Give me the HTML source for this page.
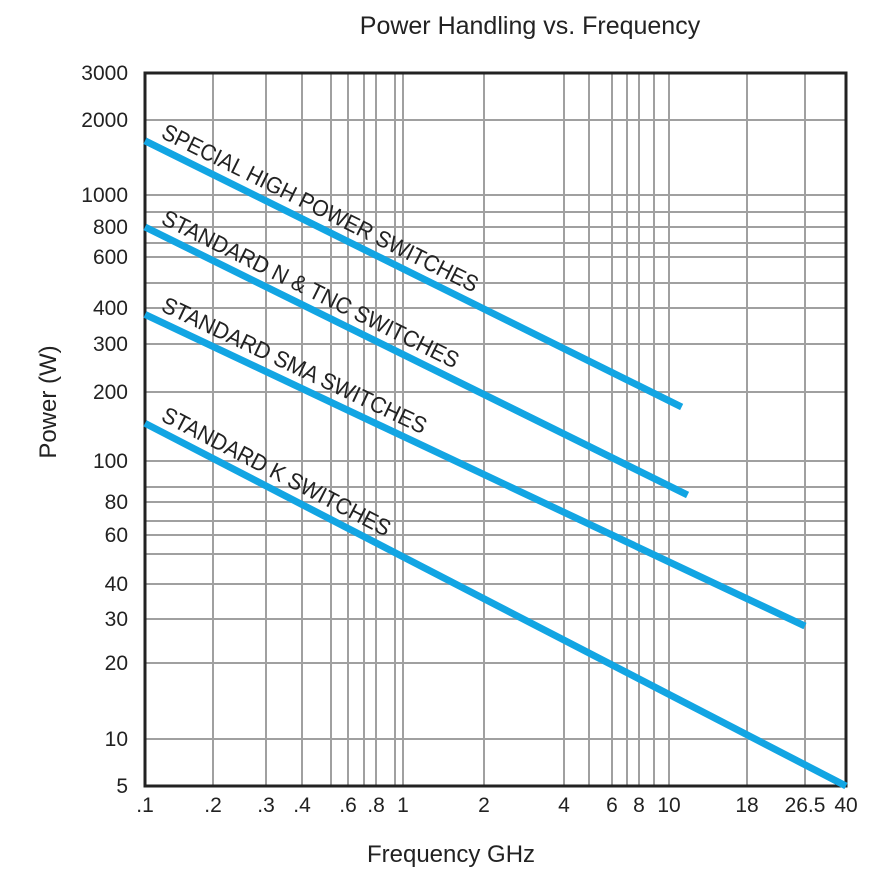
<!DOCTYPE html>
<html><head><meta charset="utf-8"><style>
body{margin:0;background:#fff}
svg{display:block;font-family:"Liberation Sans",sans-serif}
</style></head><body>
<svg id="chart" width="890" height="873" viewBox="0 0 890 873" xmlns="http://www.w3.org/2000/svg">
<text x="530" y="34" font-size="25" text-anchor="middle" fill="#222">Power Handling vs. Frequency</text>
<text x="451" y="862" font-size="24" text-anchor="middle" fill="#222">Frequency GHz</text>
<text transform="translate(56,402) rotate(-90)" font-size="24" text-anchor="middle" fill="#222">Power (W)</text>
<g id="grid"></g><g id="series"></g><g id="ticks"></g>
</svg>
<script>
const xTickLabels=[".1",".2",".3",".4",".6",".8","1","2","4","6","8","10","18","26.5","40"];
const xTickValues=[0.1,0.2,0.3,0.4,0.6,0.8,1,2,4,6,8,10,18,26.5,40];
const xGridValues=[0.2,0.3,0.4,0.5,0.6,0.7,0.8,0.9,1,2,4,5,6,7,8,9,10,18,26.5];
const yTickValues=[3000,2000,1000,800,600,400,300,200,100,80,60,40,30,20,10,5];
const yGridValues=[2000,1000,900,800,700,600,500,400,300,200,100,90,80,70,60,50,40,30,20,10];
const seriesNames=["SPECIAL HIGH POWER SWITCHES","STANDARD N & TNC SWITCHES","STANDARD SMA SWITCHES","STANDARD K SWITCHES"];
const seriesFreq=[[0.1,11],[0.1,11.5],[0.1,26.5],[0.1,40]];
const seriesPower=[[1650,172],[800,84.5],[380,28.1],[146,5]];

// axis calibration of the printed (hand-warped) log grid
const xCal=[[0.1,145],[0.2,213],[0.3,266],[0.4,302],[0.5,331],[0.6,348],[0.7,364],[0.8,376],[0.9,395],[1,403],[2,484],[4,564],[5,589],[6,612],[7,627],[8,639],[9,654],[10,669],[18,747],[26.5,805],[40,846]];
const yCal=[[5,786],[10,739],[20,663],[30,619],[40,584],[50,554],[60,535],[70,521],[80,502],[90,487],[100,461],[200,392],[300,344],[400,308],[500,283],[600,257],[700,243],[800,227],[900,212],[1000,195],[2000,120],[3000,73]];
function interp(cal,v){
  const l=Math.log10(v);
  if(v<=cal[0][0]){const a=cal[0],b=cal[1];return a[1]+(l-Math.log10(a[0]))/(Math.log10(b[0])-Math.log10(a[0]))*(b[1]-a[1]);}
  for(let i=0;i<cal.length-1;i++){const a=cal[i],b=cal[i+1];
    if(v<=b[0]||i==cal.length-2){const la=Math.log10(a[0]),lb=Math.log10(b[0]);return a[1]+(l-la)/(lb-la)*(b[1]-a[1]);}}
}
const xs=v=>interp(xCal,v), ys=v=>interp(yCal,v);
const NS="http://www.w3.org/2000/svg";
function mk(tag,attrs,parent){const e=document.createElementNS(NS,tag);for(const k in attrs)e.setAttribute(k,attrs[k]);parent.appendChild(e);return e;}
const grid=document.getElementById('grid'),ser=document.getElementById('series'),tk=document.getElementById('ticks');
const X0=xs(0.1),X1=xs(40),Y0=ys(5),Y1=ys(3000);
xGridValues.forEach(v=>{const l=mk('line',{x1:xs(v),x2:xs(v),y1:Y1,y2:Y0,stroke:'#a0a0a0','stroke-width':2},grid);

});
yGridValues.forEach(v=>{const l=mk('line',{x1:X0,x2:X1,y1:ys(v),y2:ys(v),stroke:'#a0a0a0','stroke-width':2},grid);

});
const frame=mk('rect',{x:X0,y:Y1,width:X1-X0,height:Y0-Y1,fill:'none',stroke:'#222','stroke-width':3},grid);


seriesNames.forEach((n,i)=>{
  const f=seriesFreq[i],p=seriesPower[i];
  const x1=xs(f[0]),y1=ys(p[0]),x2=xs(f[1]),y2=ys(p[1]);
  const ln=mk('line',{x1:x1,y1:y1,x2:x2,y2:y2,stroke:'#12a5e3','stroke-width':7},ser);
  
  
  const ang=Math.atan2(y2-y1,x2-x1)*180/Math.PI;
  const lens=[350,328,290,254];
  const tx=x1+15, ty=y1+(y2-y1)/(x2-x1)*15-11;
  const t=mk('text',{x:0,y:0,transform:`translate(${tx},${ty}) rotate(${ang})`,'font-size':23,fill:'#222',textLength:lens[i],lengthAdjust:'spacingAndGlyphs'},ser);
  t.textContent=n;
  
  
});
xTickValues.forEach((v,i)=>{const t=mk('text',{x:xs(v),y:812,'font-size':21,'text-anchor':'middle',fill:'#222'},tk);
t.textContent=xTickLabels[i];

});
yTickValues.forEach(v=>{const t=mk('text',{x:128,y:ys(v)+7,'font-size':21,'text-anchor':'end',fill:'#222'},tk);
t.textContent=String(v);

});
</script>
</body></html>
